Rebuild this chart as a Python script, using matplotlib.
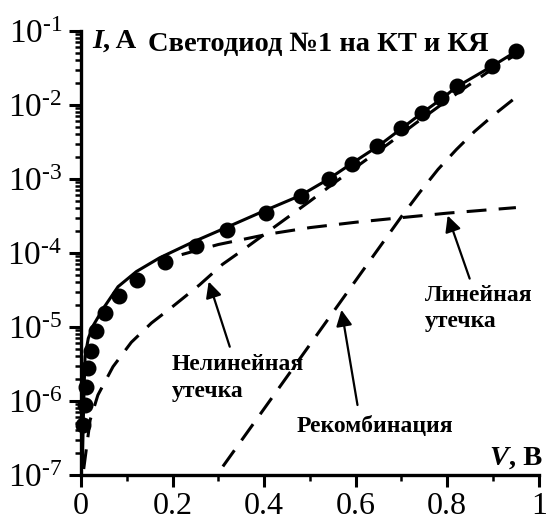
import matplotlib
matplotlib.use('Agg')
import matplotlib.pyplot as plt
from matplotlib.ticker import FixedLocator, LogLocator, MultipleLocator, NullFormatter

plt.rcParams['font.family'] = ['Liberation Serif', 'DejaVu Serif']
plt.rcParams['mathtext.fontset'] = 'custom'
plt.rcParams['mathtext.rm'] = 'Liberation Serif'
plt.rcParams['mathtext.default'] = 'regular'

# экспериментальные точки
v_exp = [0.005, 0.009, 0.011, 0.016, 0.021, 0.033, 0.052, 0.083, 0.122, 0.183,
         0.251, 0.319, 0.404, 0.480, 0.541, 0.592, 0.646, 0.699, 0.744, 0.786,
         0.822, 0.898, 0.950]
i_exp = [4.7e-7, 8.8e-7, 1.56e-6, 2.77e-6, 4.66e-6, 8.7e-6, 1.54e-5, 2.65e-5,
         4.36e-5, 7.5e-5, 1.23e-4, 2.03e-4, 3.49e-4, 5.87e-4, 9.9e-4, 1.58e-3,
         2.79e-3, 4.85e-3, 7.9e-3, 1.25e-2, 1.78e-2, 3.39e-2, 5.41e-2]

# суммарный ток (расчет)
v_fit = [0.003, 0.005, 0.007, 0.009, 0.016, 0.027, 0.048, 0.081, 0.121, 0.172,
         0.244, 0.317, 0.40, 0.48, 0.54, 0.59, 0.65, 0.70, 0.745, 0.79, 0.82,
         0.90, 0.955]
i_fit = [1.3e-7, 5e-7, 1.6e-6, 4e-6, 7e-6, 1.05e-5, 1.75e-5, 3.5e-5, 5.6e-5,
         8.6e-5, 1.4e-4, 2.2e-4, 3.7e-4, 6.0e-4, 9.9e-4, 1.6e-3, 2.8e-3, 4.8e-3,
         7.8e-3, 1.24e-2, 1.75e-2, 3.4e-2, 5.5e-2]

# нелинейная утечка
v_nonlin = [0.006, 0.02, 0.037, 0.07, 0.11, 0.154, 0.201, 0.259, 0.309, 0.36,
            0.425, 0.50, 0.563, 0.621, 0.672, 0.73, 0.788, 0.838, 0.893, 0.945]
i_nonlin = [1.2e-7, 5.5e-7, 1.2e-6, 2.9e-6, 6.2e-6, 1.13e-5, 1.9e-5, 3.7e-5,
            7.0e-5, 1.17e-4, 2.3e-4, 5.0e-4, 9.8e-4, 1.78e-3, 3.0e-3, 5.6e-3,
            1.02e-2, 1.7e-2, 2.9e-2, 4.6e-2]

# линейная утечка
v_lin = [0.22, 0.30, 0.41, 0.50, 0.60, 0.70, 0.80, 0.95]
i_lin = [9.5e-5, 1.3e-4, 1.8e-4, 2.2e-4, 2.6e-4, 3.0e-4, 3.45e-4, 4.1e-4]

# рекомбинация
v_rec = [0.31, 0.63, 0.70, 0.74, 0.78, 0.82, 0.86, 0.90, 0.945]
i_rec = [1.3e-7, 7.7e-5, 3.1e-4, 6.6e-4, 1.35e-3, 2.5e-3, 4.4e-3, 7.2e-3, 1.2e-2]

x_ticks = [0, 0.2, 0.4, 0.6, 0.8, 1.0]
x_labels = ['0', '0.2', '0.4', '0.6', '0.8', '1']
y_ticks = [1e-7, 1e-6, 1e-5, 1e-4, 1e-3, 1e-2, 1e-1]
y_labels = [r'$10^{\text{-}7}$', r'$10^{\text{-}6}$', r'$10^{\text{-}5}$',
            r'$10^{\text{-}4}$', r'$10^{\text{-}3}$', r'$10^{\text{-}2}$',
            r'$10^{\text{-}1}$']

fig = plt.figure(figsize=(5.47, 5.30), dpi=100)
ax = fig.add_axes([0.148, 0.104, 0.837, 0.8375])

lw = 2.2
dash = (0, (6.5, 4))
ax.plot(v_fit, i_fit, color='k', lw=lw)
ax.plot(v_nonlin, i_nonlin, color='k', lw=lw, ls=dash)
ax.plot(v_lin, i_lin, color='k', lw=lw, ls=dash)
ax.plot(v_rec, i_rec, color='k', lw=lw, ls=dash)
ax.plot(v_exp, i_exp, 'o', color='k', ms=10.5, clip_on=False, zorder=3)

ax.set_yscale('log')
ax.set_xlim(0, 1)
ax.set_ylim(1e-7, 1e-1)

ax.xaxis.set_major_locator(FixedLocator(x_ticks))
ax.set_xticklabels(x_labels)
ax.xaxis.set_minor_locator(MultipleLocator(0.1))
ax.yaxis.set_major_locator(FixedLocator(y_ticks))
ax.set_yticklabels(y_labels)
ax.yaxis.set_minor_locator(LogLocator(base=10, subs=range(2, 10), numticks=20))
ax.yaxis.set_minor_formatter(NullFormatter())

for s in ['top', 'right']:
    ax.spines[s].set_visible(False)
for s in ['left', 'bottom']:
    ax.spines[s].set_linewidth(2.4)
ax.tick_params(which='major', direction='out', length=8.5, width=2.2, labelsize=24)
ax.tick_params(which='minor', direction='out', length=4, width=1.8)
ax.tick_params(axis='x', which='major', pad=4, labelsize=23)
ax.tick_params(axis='y', which='major', pad=5)

# подписи осей
fs_ax = 20.5
t = ax.text(0.024, 0.962, 'I', transform=ax.transAxes, fontsize=fs_ax,
            fontweight='bold', fontstyle='italic', va='baseline')
ax.annotate(', A', xy=(1, 0), xycoords=t, fontsize=fs_ax, fontweight='bold',
            va='bottom', ha='left')
ax.text(0.1457, 0.955, 'Светодиод №1 на КТ и КЯ', transform=ax.transAxes,
        fontsize=fs_ax, fontweight='bold', va='baseline')
t = ax.text(0.893, 0.0226, 'V', transform=ax.transAxes, fontsize=fs_ax,
            fontweight='bold', fontstyle='italic', va='baseline')
ax.annotate(', В', xy=(1, 0), xycoords=t, fontsize=fs_ax, fontweight='bold',
            va='bottom', ha='left')

# подписи кривых
fs = 17
ax.text(0.198, 0.237, 'Нелинейная', transform=ax.transAxes, fontsize=fs,
        fontweight='bold', va='baseline')
ax.text(0.198, 0.176, 'утечка', transform=ax.transAxes, fontsize=fs,
        fontweight='bold', va='baseline')
ax.text(0.472, 0.097, 'Рекомбинация', transform=ax.transAxes, fontsize=fs,
        fontweight='bold', va='baseline')
ax.text(0.752, 0.391, 'Линейная', transform=ax.transAxes, fontsize=fs,
        fontweight='bold', va='baseline')
ax.text(0.752, 0.334, 'утечка', transform=ax.transAxes, fontsize=fs,
        fontweight='bold', va='baseline')

arr = dict(arrowstyle='-|>', color='k', lw=1.6, mutation_scale=24,
           shrinkA=0, shrinkB=0)
ax.annotate('', xy=(0.279, 4.1e-5), xytext=(0.325, 5.4e-6), arrowprops=arr)
ax.annotate('', xy=(0.569, 1.7e-5), xytext=(0.604, 8.8e-7), arrowprops=arr)
ax.annotate('', xy=(0.801, 3.2e-4), xytext=(0.849, 4.5e-5), arrowprops=arr)

fig.savefig('out.png', dpi=100)
